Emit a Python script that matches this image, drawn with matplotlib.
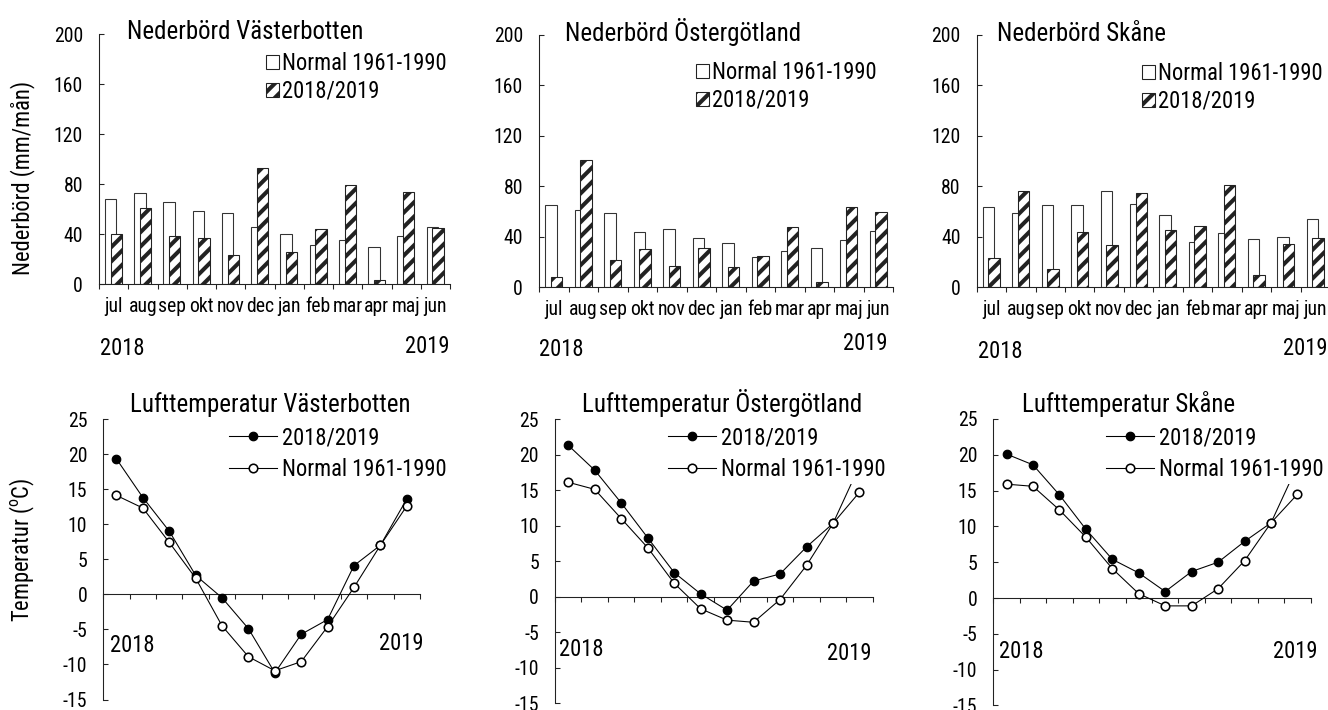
import matplotlib
matplotlib.use("Agg")
import matplotlib.pyplot as plt
from matplotlib import font_manager
from matplotlib.font_manager import FontProperties
from matplotlib.patches import Patch
from matplotlib.textpath import TextPath
import numpy as np

DPI = 86
W, H = 1328, 710


def pt(px):
    return px * 72.0 / DPI


_names = {f.name for f in font_manager.fontManager.ttflist}
FONT = next((n for n in ["Liberation Sans Narrow", "Arial Narrow", "Roboto Condensed",
                         "Archivo Narrow", "PT Sans Narrow", "Pragati Narrow",
                         "Liberation Sans"] if n in _names))
plt.rcParams["font.family"] = [FONT, "DejaVu Sans"]
plt.rcParams["hatch.linewidth"] = 3.4
plt.rcParams["axes.unicode_minus"] = False

months = ["jul", "aug", "sep", "okt", "nov", "dec", "jan", "feb", "mar", "apr", "maj", "jun"]

# Nederbörd (mm/mån)
prec_normal_vb = [68.5, 73.0, 65.6, 58.4, 57.3, 45.9, 40.5, 31.7, 35.2, 29.9, 38.4, 45.9]
prec_1819_vb = [40.5, 61.0, 39.0, 37.3, 23.2, 92.8, 25.6, 44.5, 79.2, 3.2, 74.1, 44.8]
prec_normal_og = [65.4, 61.0, 58.6, 44.0, 45.9, 39.3, 35.4, 23.7, 28.5, 30.9, 37.5, 44.3]
prec_1819_og = [8.2, 100.5, 21.9, 30.3, 16.6, 31.4, 15.8, 24.8, 47.5, 4.0, 63.6, 59.9]
prec_normal_sk = [63.9, 58.8, 64.9, 64.9, 76.0, 66.0, 57.0, 35.9, 43.0, 38.0, 39.8, 53.8]
prec_1819_sk = [23.0, 76.0, 14.2, 44.0, 33.2, 74.4, 45.4, 48.5, 80.7, 9.5, 34.3, 39.3]

# Lufttemperatur (°C)
temp_1819_vb = [19.3, 13.8, 9.0, 2.7, -0.5, -4.9, -11.2, -5.7, -3.6, 4.1, 7.0, 13.6]
temp_normal_vb = [14.1, 12.3, 7.4, 2.3, -4.5, -8.9, -10.9, -9.6, -4.6, 1.0, 7.0, 12.6]
temp_1819_og = [21.3, 17.8, 13.2, 8.3, 3.4, 0.4, -1.9, 2.2, 3.2, 7.0, 10.3, 18.4]
temp_normal_og = [16.1, 15.1, 11.0, 6.9, 1.9, -1.7, -3.3, -3.6, -0.4, 4.4, 10.3, 14.7]
temp_1819_sk = [20.1, 18.6, 14.4, 9.6, 5.4, 3.5, 0.9, 3.7, 5.0, 7.9, 10.5, 18.5]
temp_normal_sk = [15.9, 15.6, 12.3, 8.5, 4.1, 0.6, -1.1, -1.1, 1.3, 5.2, 10.5, 14.5]

# Text sizes (pixel em); scaled so that a legend label spans about 162 px
_w = TextPath((0, 0), "Normal 1961-1990", size=24, prop=FontProperties(family=FONT)).get_extents().width
SCALE = min(1.15, max(0.8, 162.0 / _w))
TICK_PX = 21.0 * SCALE
TEXT_PX = 24.0 * SCALE
TITLE_PX = 26.5 * SCALE
CAP = 0.716

fig = plt.figure(figsize=(W / DPI, H / DPI), dpi=DPI)
fig.patch.set_facecolor("white")


def axes_px(x0, x1, ytop, ybot):
    return fig.add_axes([x0 / W, 1 - ybot / H, (x1 - x0) / W, (ybot - ytop) / H])


def ftext(x, y, s, size, ha="left", va="center", **kw):
    fig.text(x / W, 1 - y / H, s, fontsize=pt(size), ha=ha, va=va, **kw)


def mid_text(x, y, s, size, ha):
    # y is the visual middle of capitals/digits; place by baseline
    ftext(x, y + CAP * size / 2, s, size, ha=ha, va="baseline")


def style_common(ax):
    for side in ("top", "right"):
        ax.spines[side].set_visible(False)
    for side in ("left", "bottom"):
        ax.spines[side].set_linewidth(0.9)
        ax.spines[side].set_color("#222222")
    ax.set_xlim(0, 12)
    ax.set_xticks(np.arange(13))
    ax.set_xticklabels([])
    ax.tick_params(axis="x", which="major", direction="out", length=pt(5), width=0.9, color="#222222")
    ax.tick_params(axis="y", which="major", direction="in", length=pt(5), width=0.9,
                   color="#222222", labelsize=pt(TICK_PX), pad=pt(16))


def precip(box, normal, obs, title_xy, title, leg_xy, y2018, y2019):
    ax = axes_px(*box)
    x = np.arange(len(months)) + 0.5
    ax.bar(x - 0.10, normal, width=0.39, color="white", edgecolor="#333333", linewidth=0.9)
    ax.bar(x + 0.09, obs, width=0.39, color="white", edgecolor="#222222", linewidth=0.9,
           hatch="//")
    style_common(ax)
    ax.set_ylim(0, 200)
    ax.set_yticks(np.arange(0, 201, 40))
    ax.set_xticks(x, minor=True)
    ax.set_xticklabels(months, minor=True)
    ax.tick_params(axis="x", which="minor", length=0, labelsize=pt(TICK_PX), pad=pt(13))
    mid_text(title_xy[0], title_xy[1], title, TITLE_PX, "left")
    handles = [
        Patch(facecolor="white", edgecolor="#222222", linewidth=0.9),
        Patch(facecolor="white", edgecolor="#222222", linewidth=0.9, hatch="//"),
    ]
    ax.legend(handles, ["Normal 1961-1990", "2018/2019"], loc="upper left",
              bbox_to_anchor=(leg_xy[0] / W, 1 - leg_xy[1] / H), bbox_transform=fig.transFigure,
              frameon=False, fontsize=pt(TEXT_PX), borderpad=0, borderaxespad=0,
              handlelength=0.58, handleheight=0.58, handletextpad=0.15, labelspacing=0.22)
    mid_text(y2018[0], y2018[1], "2018", TEXT_PX, "left")
    mid_text(y2019[0], y2019[1], "2019", TEXT_PX, "right")
    return ax


def temperature(box, obs, normal, title_x, title, leg_xy, y2018, y2019):
    ax = axes_px(*box)
    x = np.arange(len(months)) + 0.5
    ax.plot(x, obs, color="black", linewidth=0.9, marker="o", markersize=pt(8.5),
            markerfacecolor="black", markeredgecolor="black", markeredgewidth=pt(1.2),
            label="2018/2019", zorder=3)
    ax.plot(x, normal, color="black", linewidth=0.9, marker="o", markersize=pt(8.5),
            markerfacecolor="white", markeredgecolor="black", markeredgewidth=pt(1.6),
            label="Normal 1961-1990", zorder=4)
    style_common(ax)
    ax.set_ylim(-15, 25)
    ax.set_yticks(np.arange(-15, 26, 5))
    ax.spines["bottom"].set_position(("data", 0))
    mid_text(title_x, 403, title, TITLE_PX, "center")
    leg = ax.legend(loc="upper left",
                    bbox_to_anchor=(leg_xy[0] / W, 1 - leg_xy[1] / H), bbox_transform=fig.transFigure,
                    frameon=True, fancybox=False, framealpha=1.0, facecolor="white",
                    edgecolor="none", fontsize=pt(TEXT_PX), borderpad=0.15, borderaxespad=0,
                    handlelength=2.1, handletextpad=0.25, labelspacing=0.36, numpoints=1)
    leg.set_zorder(10)
    mid_text(y2018[0], y2018[1], "2018", TEXT_PX, "left")
    mid_text(y2019[0], y2019[1], "2019", TEXT_PX, "right")
    return ax


precip((99, 450, 34.3, 284.3), prec_normal_vb, prec_1819_vb, (126.7, 30),
       "Nederbörd Västerbotten", (266, 52), (100, 347), (450, 345))
precip((539, 893, 34.7, 287.3), prec_normal_og, prec_1819_og, (565, 32),
       "Nederbörd Östergötland", (696, 61), (539, 348), (888, 342))
precip((976.7, 1330, 34.7, 287.3), prec_normal_sk, prec_1819_sk, (997, 32),
       "Nederbörd Skåne", (1142, 62), (978, 350), (1327, 347))

temperature((103.3, 420, 419, 699.5), temp_1819_vb, temp_normal_vb, 270,
            "Lufttemperatur Västerbotten", (226, 423), (110, 644), (423, 642))
temperature((555, 872.7, 419, 703.3), temp_1819_og, temp_normal_og, 722,
            "Lufttemperatur Östergötland", (665, 423), (559, 648), (872, 652))
temperature((993.3, 1310.7, 419, 705.4), temp_1819_sk, temp_normal_sk, 1129,
            "Lufttemperatur Skåne", (1103, 423), (999, 650), (1317, 650))

ftext(23, 178, "Nederbörd (mm/mån)", TEXT_PX, ha="center", rotation=90)
ftext(22, 550, r"Temperatur ($\mathregular{^{o}}$C)", TEXT_PX, ha="center", rotation=90)

fig.savefig("out.png", dpi=DPI, facecolor="white")
